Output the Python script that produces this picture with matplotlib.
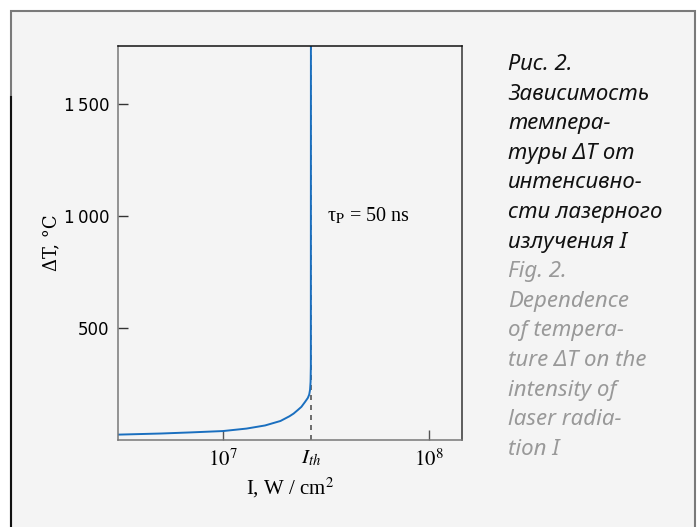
import numpy as np
import matplotlib
matplotlib.use('Agg')
import matplotlib.pyplot as plt
from matplotlib.patches import Rectangle
from matplotlib.lines import Line2D
from matplotlib.ticker import FixedLocator, FixedFormatter, NullLocator

plt.rcParams['mathtext.fontset'] = 'stix'

# ---------------data--------------- #
intensity = [3.1e6, 5.0e6, 7.0e6, 1.0e7, 1.3e7, 1.6e7, 1.9e7, 2.1e7, 2.2e7,
             2.3e7, 2.4e7, 2.5e7, 2.58e7, 2.62e7, 2.645e7, 2.66e7, 2.668e7,
             2.67e7]
delta_t = [24, 29, 34, 40, 51, 65, 85, 106, 118, 133, 148, 170, 188, 203,
           225, 260, 330, 1800]
i_th = 2.67e7
y_ticks = [500, 1000, 1500]
y_labels = ['500', '1\u2009000', '1\u2009500']
x_ticks = [1e7, 1e8]
x_labels = [r'$10^7$', r'$10^8$']
caption_ru = ['Зависимость', 'темпера-', 'туры ΔT от', 'интенсивно-',
              'сти лазерного', 'излучения I']
caption_en = ['Dependence', 'of tempera-', 'ture ΔT on the', 'intensity of',
              'laser radia-', 'tion I']

W, H = 697, 527
bg = '#f4f4f4'
fig = plt.figure(figsize=(W / 100, H / 100), dpi=100, facecolor='white')


def fx(px):
    return px / W


def fy(py):
    return 1 - py / H


# ---------------frame--------------- #
fig.patches.append(Rectangle((fx(10.5), fy(560)), fx(684.5), fy(10.5) - fy(560),
                             transform=fig.transFigure, facecolor=bg,
                             edgecolor='#7a7a7a', lw=1.5, zorder=-5))
fig.lines.append(Line2D([fx(10.5), fx(10.5)], [fy(97), 0],
                        transform=fig.transFigure, color='#111111', lw=1.5,
                        zorder=-4))

# ---------------axes--------------- #
ax = fig.add_axes([fx(118), fy(440), fx(462) - fx(118), fy(46) - fy(440)])
ax.set_zorder(3)
ax.set_facecolor(bg)
ax.set_xscale('log')
ax.axvline(i_th, color='#555555', ls=(0, (3, 3)), lw=1.2, zorder=1)
ax.plot(intensity, delta_t, color='#1a6fbf', lw=1.4, zorder=2)
ax.set_xlim(10 ** 6.49, 10 ** 8.16)
ax.set_ylim(0, 1760)

ax.xaxis.set_major_locator(FixedLocator(x_ticks))
ax.xaxis.set_major_formatter(FixedFormatter(x_labels))
ax.xaxis.set_minor_locator(FixedLocator([i_th]))
ax.xaxis.set_minor_formatter(FixedFormatter([r'$I_{th}$']))
ax.yaxis.set_major_locator(FixedLocator(y_ticks))
ax.yaxis.set_major_formatter(FixedFormatter(y_labels))
ax.yaxis.set_minor_locator(NullLocator())

ax.tick_params(axis='x', which='major', direction='in', length=7, width=1,
               color='#555555', labelsize=15, pad=6)
ax.tick_params(axis='x', which='minor', length=0, labelsize=15, pad=6)
ax.tick_params(axis='y', direction='in', length=7, width=1, color='#333333',
               labelsize=12, pad=6)

ax.spines['top'].set_color('#111111')
ax.spines['right'].set_color('#333333')
ax.spines['left'].set_color('#777777')
ax.spines['bottom'].set_color('#777777')
for s in ax.spines.values():
    s.set_linewidth(1.1)

ax.set_xlabel(r'I, W / cm$^2$', family='Liberation Serif', fontsize=15,
              labelpad=4)
ax.set_ylabel('ΔT, °C', family='DejaVu Serif', fontsize=13, labelpad=3)
ax.text(3.2e7, 1000, r'τ$_\mathrm{P}$ = 50 ns', family='Liberation Serif',
        fontsize=14.5, va='center', ha='left')

# ---------------caption--------------- #
x0 = fx(508)
base = 70
step = 29.6
fig.text(x0, fy(base), 'Рис. 2.', family='Noto Sans', style='italic',
         weight='bold', fontsize=16, color='#111111', va='baseline')
for k, line in enumerate(caption_ru):
    fig.text(x0, fy(base + step * (k + 1)), line, family='Noto Sans',
             style='italic', fontsize=16, color='#111111', va='baseline')
fig.text(x0, fy(base + step * 7), 'Fig. 2.', family='Noto Sans',
         style='italic', weight='bold', fontsize=16, color='#999999',
         va='baseline')
for k, line in enumerate(caption_en):
    fig.text(x0, fy(base + step * (k + 8)), line, family='Noto Sans',
             style='italic', fontsize=16, color='#999999', va='baseline')

fig.savefig('out.png', dpi=100, facecolor='white')
